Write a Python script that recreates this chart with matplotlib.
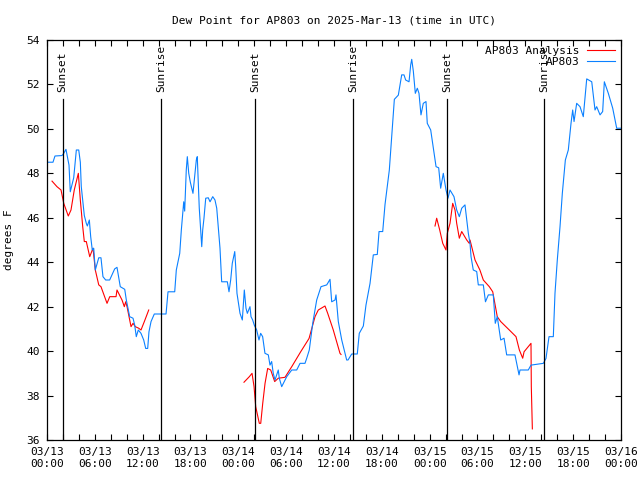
import numpy as np
import pandas as pd
import matplotlib
matplotlib.use('Agg')
import matplotlib.pyplot as plt
import matplotlib.dates as mdates

plt.rcParams['font.family'] = ['DejaVu Sans Mono']
plt.rcParams['font.size'] = 8

start = pd.Timestamp('2025-03-13 00:00')

# station obs (hours since 03/13 00:00 UTC, dew point F)
obs_hours = [0.0, 0.75, 1.0, 1.88, 2.1, 2.38, 2.76, 2.92, 3.35, 3.68,
             3.98, 4.18, 4.3, 4.68, 4.93, 5.06, 5.31, 5.48, 5.68, 5.86,
             6.06, 6.49, 6.77, 7.02, 7.36, 7.86, 8.49, 8.78, 9.19, 9.75,
             9.95, 10.16, 10.37, 10.79, 11.0, 11.2, 11.45, 11.79, 12.13, 12.38,
             12.63, 12.79, 13.05, 13.46, 14.93, 15.18, 16.02, 16.22, 16.65, 16.85,
             17.15, 17.27, 17.47, 17.6, 17.78, 17.98, 18.31, 18.48, 18.73, 18.85,
             18.98, 19.1, 19.41, 19.53, 19.69, 19.91, 20.23, 20.45, 20.79, 21.07,
             21.29, 21.7, 21.91, 22.62, 22.83, 23.04, 23.24, 23.55, 23.67, 23.83,
             24.21, 24.5, 24.75, 24.96, 25.13, 25.46, 25.59, 25.8, 26.0, 26.3,
             26.59, 26.8, 27.05, 27.34, 27.76, 27.97, 28.18, 28.38, 28.6, 29.01,
             29.14, 29.44, 29.85, 30.07, 30.7, 31.32, 31.74, 32.36, 32.58, 32.9,
             33.33, 33.83, 34.37, 35.09, 35.5, 35.71, 36.13, 36.25, 36.54, 36.97,
             37.38, 37.59, 37.76, 38.22, 38.92, 39.17, 39.68, 40.01, 40.52, 40.93,
             41.43, 41.65, 42.11, 42.4, 42.94, 43.24, 43.57, 44.07, 44.49, 44.78,
             44.99, 45.41, 45.62, 45.75, 45.95, 46.2, 46.45, 46.66, 46.91, 47.2,
             47.54, 47.7, 48.13, 48.8, 49.13, 49.38, 49.71, 50.05, 50.3, 50.55,
             51.05, 51.39, 51.72, 52.02, 52.43, 52.85, 53.06, 53.19, 53.47, 53.9,
             54.1, 54.73, 55.0, 55.36, 55.98, 56.23, 56.48, 56.91, 57.33, 57.66,
             58.7, 59.21, 59.33, 60.37, 60.71, 62.26, 62.59, 62.97, 63.51, 63.72,
             64.01, 64.35, 64.64, 65.02, 65.39, 65.73, 65.94, 66.11, 66.44, 66.86,
             67.27, 67.7, 68.33, 68.74, 68.95, 69.37, 69.7, 69.91, 70.41, 70.96,
             71.46, 72.0]
obs_dewpt = [48.5, 48.5, 48.78, 48.8, 48.9, 49.08, 48.37, 47.17, 47.8, 49.05,
             49.05, 48.5, 47.4, 46.1, 45.75, 45.63, 45.9, 45.15, 44.55, 44.63,
             43.65, 44.2, 44.2, 43.35, 43.2, 43.2, 43.7, 43.77, 42.9, 42.78,
             42.3, 41.93, 41.55, 41.48, 41.17, 40.65, 40.95, 40.8, 40.5, 40.12,
             40.12, 40.87, 41.33, 41.67, 41.67, 42.67, 42.67, 43.65, 44.4, 45.45,
             46.72, 46.3, 48.15, 48.75, 48.0, 47.6, 47.1, 47.7, 48.6, 48.75,
             47.55, 46.43, 44.7, 45.45, 45.98, 46.88, 46.9, 46.72, 46.95, 46.8,
             46.43, 44.63, 43.12, 43.12, 42.67, 43.2, 43.95, 44.48, 43.8, 42.6,
             41.7, 41.4, 42.75, 41.93, 41.7, 42.0, 41.55, 41.4, 41.17, 40.95,
             40.5, 40.8, 40.65, 39.9, 39.83, 39.37, 39.53, 39.0, 38.7, 39.15,
             38.78, 38.4, 38.7, 38.85, 39.15, 39.15, 39.45, 39.45, 39.68, 40.05,
             41.25, 42.3, 42.9, 42.98, 43.23, 42.22, 42.3, 42.53, 41.33, 40.5,
             39.9, 39.6, 39.6, 39.87, 39.87, 40.8, 41.13, 42.07, 43.05, 44.33,
             44.35, 45.38, 45.38, 46.6, 48.15, 49.65, 51.33, 51.52, 52.43, 52.43,
             52.2, 52.12, 52.88, 53.13, 52.6, 51.6, 51.83, 51.6, 50.63, 51.15,
             51.23, 50.25, 49.95, 48.3, 48.25, 47.33, 48.0, 47.25, 46.88, 47.25,
             46.95, 46.35, 46.05, 46.43, 46.58, 45.3, 44.85, 44.25, 43.65, 43.58,
             42.98, 42.98, 42.22, 42.53, 42.53, 41.25, 41.55, 40.5, 40.58, 39.83,
             39.83, 38.93, 39.15, 39.15, 39.37, 39.45, 39.67, 40.65, 40.65, 42.6,
             44.1, 45.6, 47.1, 48.6, 49.05, 50.25, 50.85, 50.33, 51.15, 51.0,
             50.55, 52.25, 52.12, 50.85, 51.0, 50.63, 50.78, 52.12, 51.6, 50.93,
             50.03, 50.03]

# analysis, three runs with gaps between
ana_hours_1 = [0.63, 1.25, 1.76, 2.1, 2.67, 3.01, 3.42, 3.93, 4.18, 4.48,
               4.68, 4.93, 5.36, 5.77, 6.06, 6.49, 6.77, 7.53, 7.87, 8.66,
               8.78, 9.41, 9.7, 9.87, 10.04, 10.54, 10.79, 11.08, 11.5, 11.79,
               12.21, 12.76]
ana_dewpt_1 = [47.65, 47.4, 47.25, 46.65, 46.08, 46.35, 47.25, 48.0, 46.8, 45.6,
               44.93, 44.93, 44.25, 44.63, 43.65, 42.98, 42.9, 42.15, 42.45, 42.45,
               42.75, 42.3, 42.0, 42.22, 42.0, 41.1, 41.25, 41.1, 41.03, 40.95,
               41.33, 41.85]
ana_hours_2 = [24.71, 25.38, 25.72, 25.97, 26.18, 26.63, 26.81, 27.06, 27.35, 27.68,
               28.06, 28.56, 29.01, 29.85, 30.7, 31.82, 32.87, 33.62, 34.03, 34.87,
               35.21, 35.91, 36.75, 36.88]
ana_dewpt_2 = [38.6, 38.85, 39.0, 38.4, 37.5, 36.75, 36.75, 37.65, 38.55, 39.22,
               39.15, 38.63, 38.78, 38.82, 39.3, 39.97, 40.57, 41.55, 41.85, 42.03,
               41.7, 40.95, 39.9, 39.85]
ana_hours_3 = [48.67, 48.88, 49.26, 49.64, 50.05, 50.21, 50.55, 50.89, 51.18, 51.39,
               51.72, 52.02, 52.65, 52.97, 53.06, 53.69, 54.3, 54.73, 55.48, 55.91,
               56.48, 56.91, 57.99, 58.83, 59.25, 59.67, 59.84, 60.71, 60.75, 60.88]
ana_dewpt_3 = [45.63, 45.98, 45.45, 44.85, 44.55, 45.3, 45.75, 46.65, 46.35, 45.75,
               45.08, 45.38, 45.0, 44.85, 45.0, 44.1, 43.65, 43.2, 42.9, 42.67,
               41.55, 41.33, 40.95, 40.65, 40.05, 39.68, 39.97, 40.35, 38.4, 36.5]

sun_names = ['Sunset', 'Sunrise', 'Sunset', 'Sunrise', 'Sunset', 'Sunrise']
sun_hours = [1.97, 14.3, 26.13, 38.42, 50.21, 62.38]


def to_time(hours):
    return start + pd.to_timedelta(np.array(hours), unit='h')


fig = plt.figure(figsize=(6.4, 4.8), dpi=100)
ax = fig.add_axes([47 / 640, 40 / 480, 574 / 640, 400 / 480])

red = '#ff0000'
blue = '#0a80ff'
ax.plot(to_time(ana_hours_1), ana_dewpt_1, color=red, lw=0.8, label='AP803 Analysis')
ax.plot(to_time(ana_hours_2), ana_dewpt_2, color=red, lw=0.8)
ax.plot(to_time(ana_hours_3), ana_dewpt_3, color=red, lw=0.8)
ax.plot(to_time(obs_hours), obs_dewpt, color=blue, lw=0.8, label='AP803')

ymin, ymax = 36, 54
label_y = 51.66
for name, t in zip(sun_names, to_time(sun_hours)):
    ax.plot([t, t], [ymin, label_y - 0.3], color='black', lw=0.9)
    ax.text(t, label_y, name, rotation=90, ha='center', va='bottom', fontsize=8)

ax.set_xlim(to_time([0])[0], to_time([72])[0])
ax.set_ylim(ymin, ymax)
ax.set_yticks(np.arange(36, 55, 2))
ax.xaxis.set_major_locator(mdates.HourLocator(byhour=[0, 6, 12, 18]))
ax.xaxis.set_minor_locator(mdates.HourLocator(interval=2))
ax.xaxis.set_major_formatter(mdates.DateFormatter('%m/%d\n%H:%M'))
ax.tick_params(which='both', direction='in', top=True, right=True, length=4, width=0.8)
ax.tick_params(axis='x', pad=5)
ax.tick_params(axis='y', pad=5)
for s in ax.spines.values():
    s.set_linewidth(0.9)

ax.set_title('Dew Point for AP803 on 2025-Mar-13 (time in UTC)', fontsize=8, pad=12)
ax.set_ylabel('degrees F')
ax.yaxis.set_label_coords(-0.057, 0.5)

ax.legend(loc='upper right', frameon=False, markerfirst=False, handlelength=2.6,
          handletextpad=0.6, labelspacing=0.15, borderaxespad=0.1, borderpad=0.4)

fig.savefig('out.png', dpi=100)
